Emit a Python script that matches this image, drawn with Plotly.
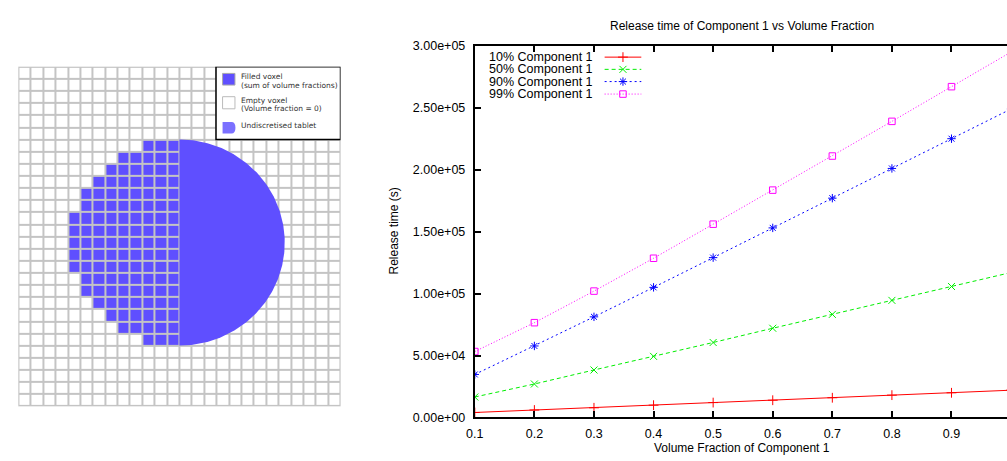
import numpy as np
import plotly.graph_objects as go

# ---------------- data ----------------
volume_fraction = [0.1, 0.2, 0.3, 0.4, 0.5, 0.6, 0.7, 0.8, 0.9, 1.0]
series_names = ["10% Component 1", "50% Component 1", "90% Component 1", "99% Component 1"]
release_10 = [4000, 6000, 7800, 9900, 12000, 13900, 15900, 18000, 19900, 22000]
release_50 = [16500, 27000, 38300, 49300, 60500, 72000, 83200, 94500, 105700, 117000]
release_90 = [34700, 57700, 81200, 105000, 129000, 153000, 177000, 201000, 225000, 249000]
release_99 = [53200, 76500, 102000, 128500, 156000, 183500, 211000, 239000, 267000, 295000]
y_ticks = [0, 50000, 100000, 150000, 200000, 250000, 300000]
x_ticks = [0.1, 0.2, 0.3, 0.4, 0.5, 0.6, 0.7, 0.8, 0.9]

# voxel diagram
n_cols, n_rows = 26, 28
filled_rows = list(range(6, 23))
filled_start_col = [10, 8, 7, 6, 5, 5, 4, 4, 4, 4, 4, 5, 5, 6, 7, 8, 10]
filled_end_col = 12
tablet_center = (13.0, 14.5)
tablet_radius = 8.5

# ---------------- helpers ----------------
W, H = 1007, 461
def PX(px):
    return px / W
def PY(py):
    return 1 - py / H

BLUE = "#5f4fff"
GRID = "#c4c4c4"
colors = ["#ff0000", "#00ee00", "#0000ff", "#ff00ff"]
dashes = ["solid", "4px,3px", "2px,3px", "1px,2px"]
symbols = ["cross-thin-open", "x-thin-open", "asterisk-open", "square-open"]
sizes = [7, 7, 7, 6.5]
series = [release_10, release_50, release_90, release_99]

fig = go.Figure()

# ---------------- left: voxel grid ----------------
z = np.zeros((n_rows, n_cols))
for r, c0 in zip(filled_rows, filled_start_col):
    z[r, c0:filled_end_col + 1] = 1

fig.add_trace(go.Heatmap(
    z=z, x=np.arange(n_cols) + 0.5, y=np.arange(n_rows) + 0.5,
    colorscale=[[0, "white"], [1, BLUE]], zmin=0, zmax=1, showscale=False,
    xgap=2, ygap=2, hoverinfo="skip", xaxis="x", yaxis="y"))

t = np.linspace(-np.pi / 2, np.pi / 2, 200)
fig.add_trace(go.Scatter(
    x=tablet_center[0] + tablet_radius * np.cos(t),
    y=tablet_center[1] + tablet_radius * np.sin(t),
    fill="toself", fillcolor=BLUE, mode="lines", line=dict(width=0, color=BLUE),
    hoverinfo="skip", showlegend=False, xaxis="x", yaxis="y"))

# ---------------- right: release time chart ----------------
px_per_unit = 601.25
x_left_px, x_right_px = 470, W
x_max = 0.1 + (x_right_px - x_left_px) / px_per_unit
y_top_px, y_bot_px = 40, 423.3

for name, vals, col, dsh, sym, sz in zip(series_names, series, colors, dashes, symbols, sizes):
    fig.add_trace(go.Scatter(
        x=volume_fraction, y=vals, mode="lines+markers", name=name,
        line=dict(color=col, width=1, dash=dsh),
        marker=dict(symbol=sym, size=sz, color=col, line=dict(color=col, width=1)),
        showlegend=False, xaxis="x2", yaxis="y2"))

# custom gnuplot-style key (text, then sample)
def dx(px):
    return 0.1 + (px - x_left_px) / px_per_unit
def dy(py):
    return (y_bot_px - py) * 300000 / (y_bot_px - y_top_px)

key_rows = [51.7, 64.3, 76.9, 89.8]
annotations = []
for name, col, dsh, sym, sz, ry in zip(series_names, colors, dashes, symbols, sizes, key_rows):
    fig.add_trace(go.Scatter(
        x=[dx(601), dx(638)], y=[dy(ry), dy(ry)], mode="lines",
        line=dict(color=col, width=1, dash=dsh), showlegend=False,
        hoverinfo="skip", xaxis="x2", yaxis="y2"))
    fig.add_trace(go.Scatter(
        x=[dx(619.5)], y=[dy(ry)], mode="markers",
        marker=dict(symbol=sym, size=sz, color=col, line=dict(color=col, width=1)),
        showlegend=False, hoverinfo="skip", xaxis="x2", yaxis="y2"))
    annotations.append(dict(text=name, x=PX(591), y=PY(ry), xref="paper", yref="paper",
                            xanchor="right", yanchor="middle", showarrow=False,
                            font=dict(family="Liberation Sans", size=12.5, color="black")))

# titles
annotations.append(dict(text="Release time of Component 1 vs Volume Fraction",
                        x=PX(740), y=PY(20), xref="paper", yref="paper",
                        xanchor="center", yanchor="middle", showarrow=False,
                        font=dict(family="Liberation Sans", size=12, color="black")))
annotations.append(dict(text="Volume Fraction of Component 1",
                        x=PX(740), y=PY(455), xref="paper", yref="paper",
                        xanchor="center", yanchor="middle", showarrow=False,
                        font=dict(family="Liberation Sans", size=12, color="black")))
annotations.append(dict(text="Release time (s)", textangle=-90,
                        x=PX(388), y=PY(231), xref="paper", yref="paper",
                        xanchor="center", yanchor="middle", showarrow=False,
                        font=dict(family="Liberation Sans", size=12, color="black")))

# left legend texts
leg_font = dict(family="DejaVu Sans", size=7.5, color="#333333")
for txt, ty in [("Filled voxel", 71.5), ("(sum of volume fractions)", 80.5),
                ("Empty voxel", 96), ("(Volume fraction = 0)", 104.8),
                ("Undiscretised tablet", 122)]:
    annotations.append(dict(text=txt, x=PX(232), y=PY(ty), xref="paper", yref="paper",
                            xanchor="left", yanchor="middle", showarrow=False, font=leg_font))

shapes = [
    dict(type="rect", xref="x", yref="y", x0=-0.05, x1=n_cols + 0.05, y0=-0.05, y1=n_rows + 0.05,
         fillcolor=GRID, line=dict(color=GRID, width=1), layer="below"),
    dict(type="rect", xref="x", yref="y", x0=15.95, x1=n_cols, y0=0, y1=6.0,
         fillcolor="white", line=dict(color="black", width=1.5)),
    dict(type="rect", xref="paper", yref="paper", x0=PX(215.5), x1=PX(228), y0=PY(80.5), y1=PY(68.5),
         fillcolor=BLUE, line=dict(color="#aaaaaa", width=1)),
    dict(type="rect", xref="paper", yref="paper", x0=PX(215.5), x1=PX(228), y0=PY(105), y1=PY(92.5),
         fillcolor="white", line=dict(color="#bbbbbb", width=1)),
]
tx0, tx1, ty0, ty1 = 215.5, 228.5, 118.5, 130.5
path = (f"M {PX(tx0)},{PY(ty0)} L {PX(tx1-4)},{PY(ty0)} "
        f"Q {PX(tx1)},{PY(ty0)} {PX(tx1)},{PY((ty0+ty1)/2)} "
        f"Q {PX(tx1)},{PY(ty1)} {PX(tx1-4)},{PY(ty1)} L {PX(tx0)},{PY(ty1)} Z")
shapes.append(dict(type="path", xref="paper", yref="paper", path=path,
                   fillcolor="#7b70ff", line=dict(width=0)))

fig.update_layout(
    width=W, height=H, autosize=False,
    margin=dict(l=0, r=0, t=0, b=0, pad=0),
    paper_bgcolor="white", plot_bgcolor="rgba(0,0,0,0)",
    showlegend=False,
    annotations=annotations, shapes=shapes,
    xaxis=dict(domain=[PX(9.5), PX(334.5)], range=[0, n_cols], visible=False, fixedrange=True),
    yaxis=dict(domain=[PY(411.7), PY(61.7)], range=[n_rows, 0], visible=False, fixedrange=True),
    xaxis2=dict(domain=[PX(x_left_px), 1.0], range=[0.1, x_max], anchor="y2",
                tickvals=x_ticks, ticktext=[f"{v:.1f}" for v in x_ticks],
                showline=True, linecolor="black", linewidth=2, mirror="ticks",
                ticks="inside", ticklen=6, tickwidth=1.5, tickcolor="black",
                showgrid=False, zeroline=False, ticklabelstandoff=4,
                tickfont=dict(family="Liberation Sans", size=12.5, color="black")),
    yaxis2=dict(domain=[PY(y_bot_px), PY(y_top_px)], range=[0, 300000], anchor="x2",
                tickvals=y_ticks, ticktext=[f"{v:.2e}" for v in y_ticks],
                showline=True, linecolor="black", linewidth=2,
                ticks="inside", ticklen=6, tickwidth=1.5, tickcolor="black",
                showgrid=False, zeroline=False, ticklabelstandoff=5,
                tickfont=dict(family="Liberation Sans", size=12.5, color="black")),
)

fig.write_html(
    "out.html",
    config={"responsive": False, "displayModeBar": False},
    post_script="document.body.style.margin='0';document.body.style.overflow='hidden';",
)
